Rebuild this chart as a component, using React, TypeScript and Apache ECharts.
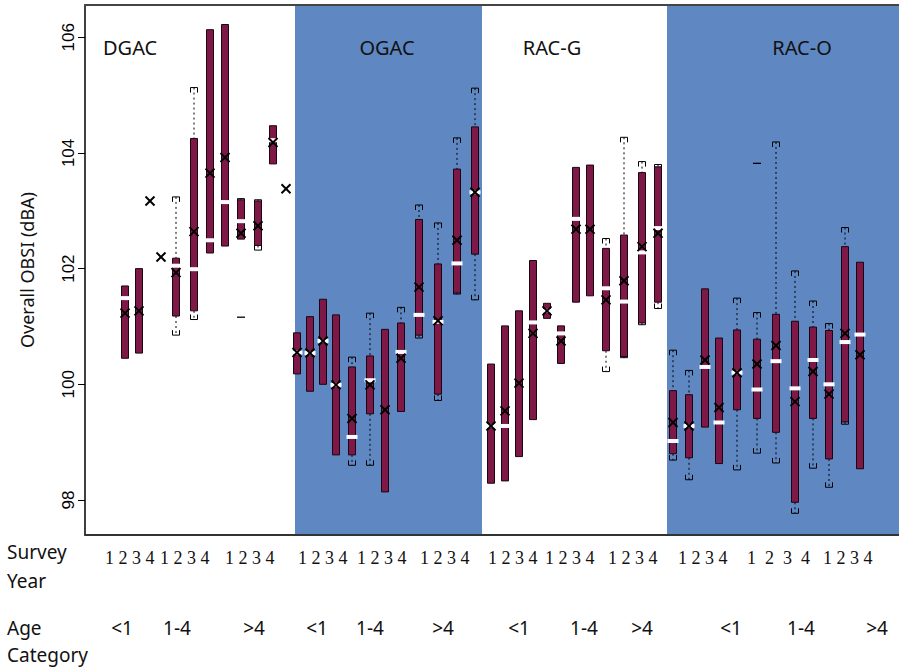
import React, { useEffect, useRef } from "react";
import * as echarts from "echarts";

// ---- Labels ----
const panelNames = ["DGAC", "OGAC", "RAC-G", "RAC-O"];
const yTicks = [98, 100, 102, 104, 106];
const surveyYears = ["1", "2", "3", "4"];
const ageCategories = ["<1", "1-4", ">4"];
const yTitle = "Overall OBSI (dBA)";

// ---- Panel extents along the x axis (position units) ----
const panelStart = [0, 21.0, 39.7, 58.2];
const panelEnd = [21.0, 39.7, 58.2, 81.4];
const panelShaded = [false, true, false, true];

// ---- Box positions (x axis units) ----
const xPos = [
  // DGAC
  4.0, 5.4, 6.5, 7.6, 9.1, 10.9, 12.5, 14.0, 15.6, 17.3, 18.8, 20.1,
  // OGAC
  21.2, 22.5, 23.8, 25.1, 26.7, 28.5, 30.0, 31.6, 33.4, 35.3, 37.2, 39.0,
  // RAC-G
  40.6, 42.0, 43.4, 44.8, 46.2, 47.6, 49.1, 50.5, 52.1, 53.9, 55.7, 57.3,
  // RAC-O
  58.8, 60.4, 62.0, 63.4, 65.2, 67.2, 69.1, 71.0, 72.8, 74.4, 76.0, 77.5,
];

// lower quartile
const boxLow = [
  100.45, 100.54, null, null, 101.18, 101.27, 102.27, 102.39, 102.51, 102.4, 103.81, null,
  100.18, 99.88, 100.0, 98.78, 98.78, 99.49, 98.14, 99.53, 100.85, 99.83, 101.58, 102.25,
  98.29, 98.33, 98.75, 99.39, 101.14, 100.36, 101.42, 101.53, 100.58, 100.48, 101.06, 101.42,
  98.8, 98.73, 99.26, 98.63, 99.56, 99.41, 99.17, 97.96, 99.41, 98.71, 99.35, 98.54,
];
// upper quartile
const boxHigh = [
  101.7, 102.0, null, null, 102.18, 104.25, 106.13, 106.22, 103.19, 103.17, 104.47, null,
  100.89, 101.17, 101.47, 101.2, 100.3, 100.49, 100.95, 101.06, 102.85, 102.08, 103.72, 104.45,
  100.35, 101.01, 101.27, 102.14, 101.4, 101.01, 103.75, 103.79, 102.35, 102.58, 103.66, 103.76,
  99.89, 99.82, 101.65, 100.8, 100.94, 100.78, 101.21, 101.09, 100.99, 100.93, 102.38, 102.11,
];
const medians = [
  101.49, null, null, null, 102.05, 101.99, 102.49, 103.15, 102.82, null, 104.22, null,
  100.55, 100.54, 100.75, 99.99, 99.09, 100.07, null, 100.56, 101.2, 101.08, 102.09, 103.32,
  99.28, 99.28, null, 101.07, 101.27, 100.88, 102.86, null, 101.66, 101.43, 102.28, 102.7,
  99.02, 99.28, 100.3, 99.34, 100.2, 99.91, 100.4, 99.93, 100.42, 100.0, 100.73, 100.86,
];
const means = [
  101.23, 101.27, 103.17, 102.2, 101.93, 102.64, 103.65, 103.92, 102.61, 102.74, 104.18, 103.38,
  100.55, 100.54, 100.75, 99.99, 99.41, 99.99, 99.56, 100.45, 101.68, 101.1, 102.49, 103.32,
  99.28, 99.54, 100.02, 100.88, 101.27, 100.75, 102.68, 102.68, 101.46, 101.79, 102.38, 102.61,
  99.34, 99.28, 100.42, 99.6, 100.2, 100.35, 100.67, 99.7, 100.22, 99.83, 100.88, 100.51,
];
const whiskerLow = [
  null, null, null, null, 100.85, 101.12, null, null, null, 102.32, null, null,
  null, null, null, null, 98.6, 98.6, null, null, 100.8, 99.72, 101.56, 101.46,
  null, null, null, null, null, null, null, null, 100.22, 100.46, 101.03, 101.31,
  98.69, 98.35, null, null, 98.52, 98.81, 98.64, 97.77, 98.55, 98.22, 99.31, null,
];
const whiskerHigh = [
  null, null, null, null, 103.24, 105.13, null, null, 103.21, 103.19, null, null,
  null, null, null, null, 100.47, 101.23, null, 101.33, 103.1, 102.79, 104.26, 105.12,
  null, null, null, null, null, null, null, null, 102.52, 104.27, 103.85, 103.8,
  100.59, 100.24, null, null, 101.49, 101.24, 104.19, 101.96, 101.44, 101.05, 102.71, null,
];
const outliers = [
  null, null, null, null, null, null, null, null, 101.16, null, null, null,
  null, null, null, null, null, null, null, null, null, null, null, null,
  null, null, null, null, null, null, null, null, null, null, null, null,
  null, null, null, null, null, 103.82, null, null, null, null, null, null,
];

const Y_MIN = 97.395;
const Y_MAX = 106.557;

export default function App() {
  const ref = useRef<HTMLDivElement>(null);

  useEffect(() => {
    if (!ref.current) return;
    const chart = echarts.init(ref.current, undefined, { renderer: "svg" });

    const boxW = 7;
    const maroon = "#7e1846";

    const renderItem = (params: any, api: any) => {
      const i = params.dataIndex;
      const x = xPos[i];
      const cx = api.coord([x, means[i]])[0];
      const py = (v: number) => api.coord([x, v])[1];
      const children: any[] = [];
      const dotted = { stroke: "#000", lineWidth: 1, lineDash: [2, 3] };
      const solid = { stroke: "#000", lineWidth: 1, fill: "none" };
      const hi = boxHigh[i];
      const lo = boxLow[i];
      const wh = whiskerHigh[i];
      const wl = whiskerLow[i];
      if (wh != null) {
        const yT = py(wh);
        const yB = hi != null ? py(hi) : py(means[i]);
        children.push({ type: "line", shape: { x1: cx, y1: yT, x2: cx, y2: yB }, style: dotted });
        children.push({
          type: "polyline",
          shape: { points: [[cx - 3.5, yT + 5], [cx - 3.5, yT], [cx + 3.5, yT], [cx + 3.5, yT + 5]] },
          style: solid,
        });
      }
      if (wl != null) {
        const yB = py(wl);
        const yT = lo != null ? py(lo) : py(means[i]);
        children.push({ type: "line", shape: { x1: cx, y1: yT, x2: cx, y2: yB }, style: dotted });
        children.push({
          type: "polyline",
          shape: { points: [[cx - 3.5, yB - 5], [cx - 3.5, yB], [cx + 3.5, yB], [cx + 3.5, yB - 5]] },
          style: solid,
        });
      }
      if (hi != null && lo != null) {
        const yT = py(hi);
        const yB = py(lo);
        children.push({
          type: "rect",
          shape: { x: cx - boxW / 2, y: yT, width: boxW, height: yB - yT },
          style: { fill: maroon, stroke: "#1a0510", lineWidth: 1 },
        });
      }
      if (medians[i] != null) {
        const my = py(medians[i] as number);
        children.push({
          type: "rect",
          shape: { x: cx - 5.5, y: my - 2, width: 11, height: 4 },
          style: { fill: "#ffffff" },
        });
      }
      if (outliers[i] != null) {
        const oy = py(outliers[i] as number);
        children.push({
          type: "line",
          shape: { x1: cx - 4, y1: oy, x2: cx + 4, y2: oy },
          style: { stroke: "#000", lineWidth: 1.3 },
        });
      }
      const mY = py(means[i]);
      const xs = { stroke: "#000", lineWidth: 2 };
      children.push({ type: "line", shape: { x1: cx - 4.5, y1: mY - 4.5, x2: cx + 4.5, y2: mY + 4.5 }, style: xs });
      children.push({ type: "line", shape: { x1: cx - 4.5, y1: mY + 4.5, x2: cx + 4.5, y2: mY - 4.5 }, style: xs });
      return { type: "group", children };
    };

    const sans = "'Noto Sans', 'Open Sans', sans-serif";
    const serif = "'Liberation Serif', 'DejaVu Serif', serif";

    // annotation layout
    const titleX = [103, 387, 552, 802];
    const titleAlign = ["left", "center", "center", "center"];
    const groupStarts = [105, 160, 225, 298, 357, 420, 488, 545, 608, 678, 747, 823];
    const ageCenters = [122, 177, 254, 317, 370, 443, 519, 584, 642, 731, 801, 877];

    const graphics: any[] = [];
    panelNames.forEach((n, k) => {
      graphics.push({
        type: "text",
        x: titleX[k],
        y: 47,
        style: { text: n, font: `20px ${sans}`, fill: "#111", textAlign: titleAlign[k], textVerticalAlign: "middle" },
        z: 20,
      });
    });
    graphics.push({
      type: "text",
      x: 27,
      y: 270,
      rotation: Math.PI / 2,
      style: { text: yTitle, font: `18px ${sans}`, fill: "#111", textAlign: "center", textVerticalAlign: "middle" },
    });
    const leftLabels = [
      ["Survey", 552],
      ["Year", 581],
      ["Age", 628],
      ["Category", 655],
    ];
    leftLabels.forEach(([t, y]) => {
      graphics.push({
        type: "text",
        x: 7,
        y: y as number,
        style: { text: t as string, font: `19px ${sans}`, fill: "#111", textAlign: "left", textVerticalAlign: "middle" },
      });
    });
    groupStarts.forEach((gx, g) => {
      const sep = g === 10 ? "  " : " ";
      graphics.push({
        type: "text",
        x: gx,
        y: 558,
        style: {
          text: surveyYears.join(sep),
          font: `18px ${serif}`,
          fill: "#111",
          textAlign: "left",
          textVerticalAlign: "middle",
        },
      });
    });
    ageCenters.forEach((ax, k) => {
      graphics.push({
        type: "text",
        x: ax,
        y: 628,
        style: {
          text: ageCategories[k % 3],
          font: `19px ${sans}`,
          fill: "#111",
          textAlign: "center",
          textVerticalAlign: "middle",
        },
      });
    });

    const markAreaData = panelNames
      .map((_, k) => k)
      .filter((k) => panelShaded[k])
      .map((k) => [
        { xAxis: panelStart[k], yAxis: Y_MIN },
        { xAxis: panelEnd[k], yAxis: Y_MAX },
      ]);

    chart.setOption({
      animation: false,
      backgroundColor: "#ffffff",
      grid: { left: 85, right: 0, top: 5, bottom: 133 },
      xAxis: [
        {
          type: "value",
          min: 0,
          max: 81.4,
          position: "bottom",
          z: 10,
          axisLine: { show: true, lineStyle: { color: "#333", width: 2 } },
          axisTick: { show: false },
          axisLabel: { show: false },
          splitLine: { show: false },
        },
        {
          type: "value",
          min: 0,
          max: 81.4,
          position: "top",
          z: 10,
          axisLine: { show: true, lineStyle: { color: "#444", width: 2 } },
          axisTick: { show: false },
          axisLabel: { show: false },
          splitLine: { show: false },
        },
      ],
      yAxis: {
        type: "value",
        min: Y_MIN,
        max: Y_MAX,
        z: 10,
        axisLine: { show: true, lineStyle: { color: "#000", width: 1.5 } },
        axisTick: { show: true, length: 7, lineStyle: { color: "#000" }, customValues: yTicks },
        axisLabel: {
          show: true,
          rotate: 90,
          margin: 8,
          fontSize: 17,
          fontFamily: "'Liberation Sans', Arial, sans-serif",
          color: "#000",
          customValues: yTicks,
          formatter: (v: number) => String(v),
        },
        splitLine: { show: false },
      },
      series: [
        {
          type: "line",
          data: [[0, 100]],
          symbol: "none",
          lineStyle: { opacity: 0 },
          z: 1,
          silent: true,
          markArea: {
            silent: true,
            itemStyle: { color: "#5f87c2" },
            data: markAreaData,
          },
        },
        {
          type: "custom",
          z: 3,
          renderItem,
          encode: { x: 0, y: 1 },
          data: xPos.map((x, i) => [x, means[i]]),
          clip: false,
        },
      ],
      graphic: graphics,
    });

    return () => chart.dispose();
  }, []);

  return (
    <div
      ref={ref}
      style={{ position: "fixed", left: 0, top: 0, width: 899, height: 668, background: "#fff" }}
    />
  );
}
